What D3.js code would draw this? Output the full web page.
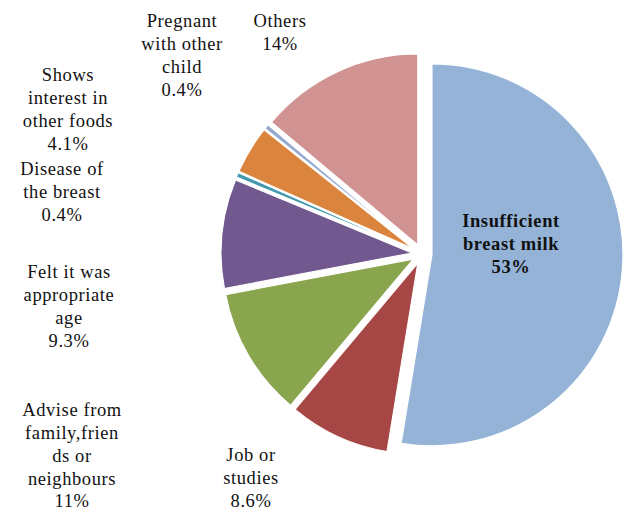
<!DOCTYPE html>
<html>
<head>
<meta charset="utf-8">
<script src="https://cdn.jsdelivr.net/npm/d3@7"></script>
<style>
  body { margin: 0; background: #fff; }
  svg text { font-family: "Liberation Serif", "DejaVu Serif", serif; font-size: 18.5px; letter-spacing: 0.6px; fill: #111; }
</style>
</head>
<body>
<svg width="625" height="511"></svg>
<script>
// reasons for stopping breastfeeding, clockwise from 12 o'clock
var categories = ["Insufficient breast milk", "Job or studies", "Advise from family,friends or neighbours",
    "Felt it was appropriate age", "Disease of the breast", "Shows interest in other foods",
    "Pregnant with other child", "Others"];
var values = [53, 8.6, 11, 9.3, 0.4, 4.1, 0.4, 14];
var valueLabels = ["53%", "8.6%", "11%", "9.3%", "0.4%", "4.1%", "0.4%", "14%"];
// label lines as broken in the chart
var labelLines = [
    ["Insufficient", "breast milk"],
    ["Job or", "studies"],
    ["Advise from", "family,frien", "ds or", "neighbours"],
    ["Felt it was", "appropriate", "age"],
    ["Disease of", "the breast"],
    ["Shows", "interest in", "other foods"],
    ["Pregnant", "with other", "child"],
    ["Others"]
];
var colors = ["#95b3d7", "#a74745", "#89a54e", "#71588f", "#4198af", "#db843d", "#93a9cf", "#d19392"];

// label anchor (center x, first line y)
var labelPos = [[511, 221], [251, 455], [72, 410], [69, 272], [62, 169], [68, 75], [182, 21], [280, 21]];

var svg = d3.select("svg"),
    cx = 422, cy = 254, radius = 191, explode = 10, lineH = 22.8;

var pie = d3.pie().sort(null).value(function(d) { return d; });
var arc = d3.arc().innerRadius(0).outerRadius(radius);
var arcs = pie(values);

var g = svg.append("g").attr("transform", "translate(" + cx + "," + cy + ")");

g.selectAll("path")
    .data(arcs)
    .enter().append("path")
    .attr("d", arc)
    .attr("fill", function(d, i) { return colors[i]; })
    .attr("stroke", "#fff")
    .attr("stroke-width", 1.2)
    .attr("transform", function(d) {
        var a = (d.startAngle + d.endAngle) / 2;
        return "translate(" + (explode * Math.sin(a)) + "," + (-explode * Math.cos(a)) + ")";
    });

// labels
for (var i = 0; i < categories.length; i++) {
    var lines = labelLines[i].concat([valueLabels[i]]);
    var t = svg.append("text")
        .attr("text-anchor", "middle")
        .attr("font-weight", i == 0 ? "bold" : "normal");
    lines.forEach(function(s, k) {
        t.append("tspan")
            .attr("x", labelPos[i][0])
            .attr("y", labelPos[i][1] + k * lineH)
            .attr("dy", "0.33em")
            .text(s);
    });
}
</script>
</body>
</html>
